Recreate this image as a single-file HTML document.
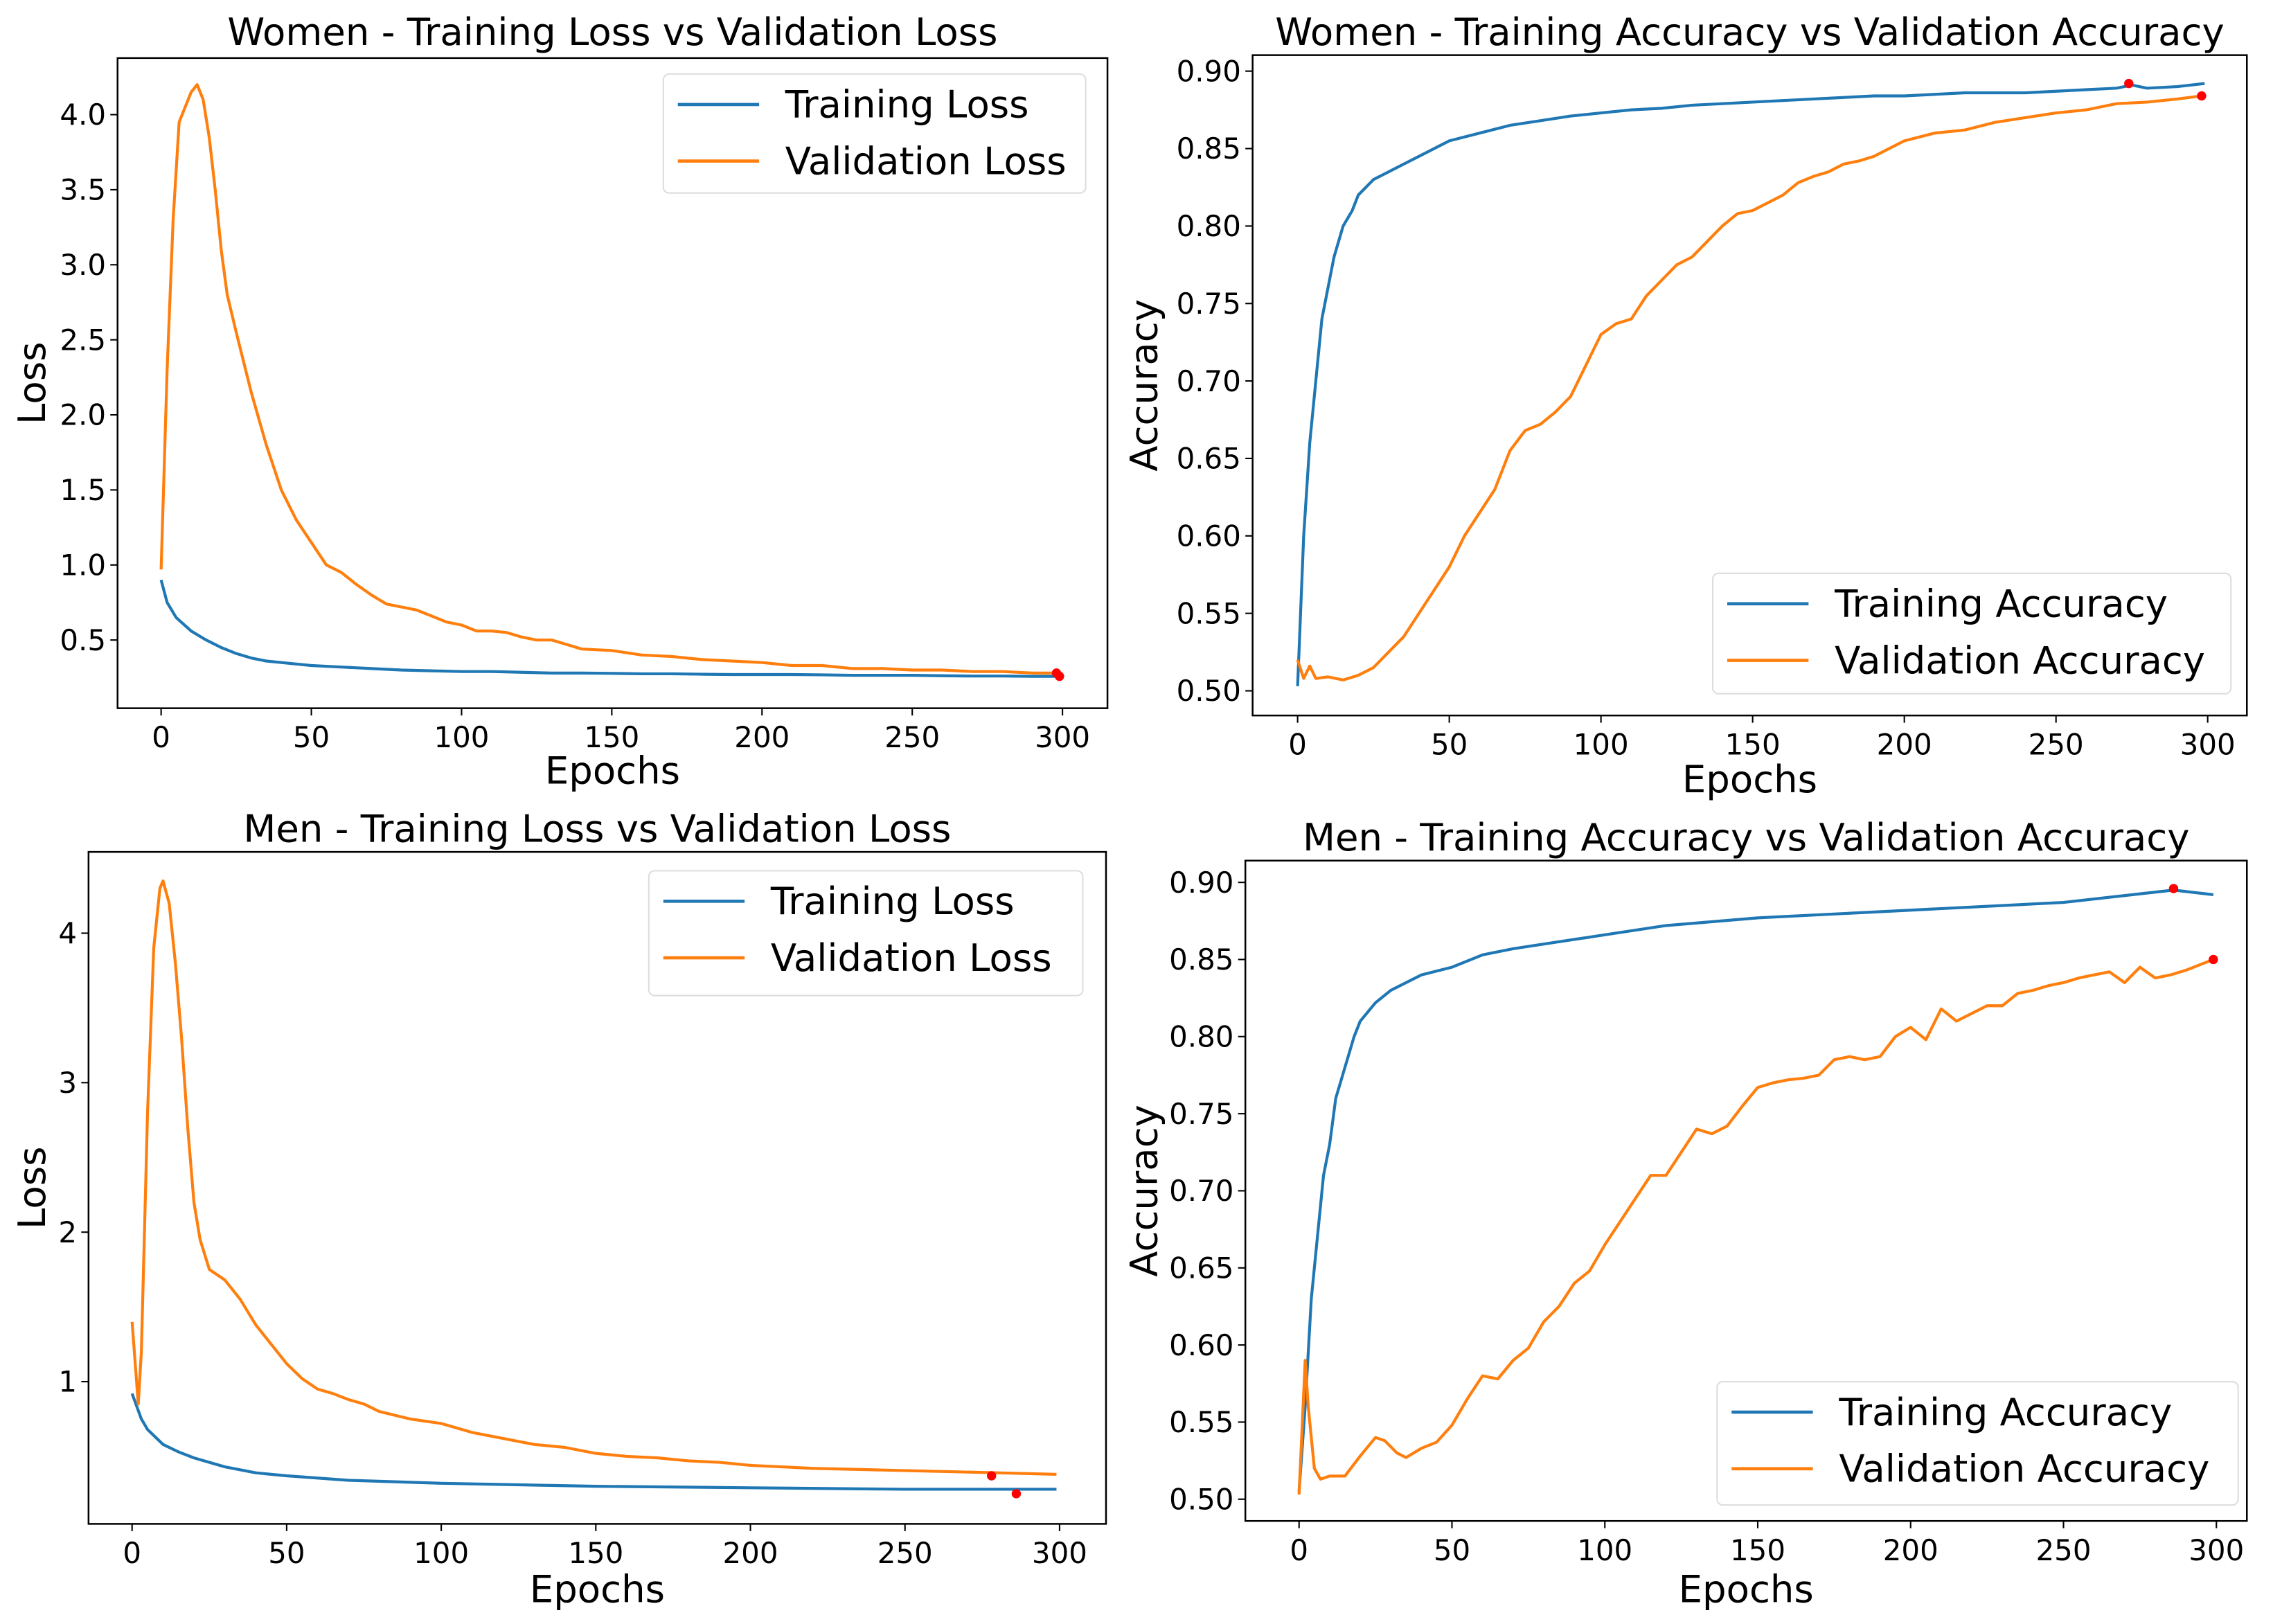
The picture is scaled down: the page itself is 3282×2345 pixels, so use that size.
<!DOCTYPE html>
<html><head><meta charset="utf-8"><style>
html,body{margin:0;padding:0;background:#fff;}
svg{display:block;}
text{font-family:"DejaVu Sans","Liberation Sans",sans-serif;fill:#000;}
</style></head><body>
<svg id="fig" width="3282" height="2345" viewBox="0 0 1566 1119" preserveAspectRatio="none" xmlns="http://www.w3.org/2000/svg"></svg>
<script>
// ---- Women loss ----
const wLossEp = [0,2,4,6,8,10,12,14,16,18,20,22,25,30,35,40,45,50,55,60,65,70,75,80,85,90,95,100,105,110,115,120,125,130,135,140,150,160,170,180,190,200,210,220,230,240,250,260,270,280,290,299];
const wValLoss = [0.97,2.3,3.3,3.95,4.05,4.15,4.2,4.1,3.85,3.5,3.1,2.8,2.55,2.15,1.8,1.5,1.3,1.15,1.0,0.95,0.87,0.8,0.74,0.72,0.7,0.66,0.62,0.6,0.56,0.56,0.55,0.52,0.5,0.5,0.47,0.44,0.43,0.4,0.39,0.37,0.36,0.35,0.33,0.33,0.31,0.31,0.3,0.3,0.29,0.29,0.28,0.28];
const wTrLossEp = [0,2,5,10,15,20,25,30,35,40,45,50,60,70,80,90,100,110,120,130,140,150,160,170,180,190,200,210,220,230,240,250,260,270,280,290,299];
const wTrLoss = [0.9,0.75,0.65,0.56,0.5,0.45,0.41,0.38,0.36,0.35,0.34,0.33,0.32,0.31,0.3,0.295,0.29,0.29,0.285,0.28,0.28,0.278,0.275,0.275,0.272,0.27,0.27,0.27,0.268,0.265,0.265,0.265,0.262,0.26,0.26,0.258,0.258];
// ---- Women accuracy ----
const wTrAccEp = [0,2,4,6,8,10,12,15,18,20,25,30,35,40,50,60,70,80,90,100,110,120,130,140,150,160,170,180,190,200,210,220,230,240,250,260,270,275,280,290,299];
const wTrAcc = [0.503,0.6,0.66,0.7,0.74,0.76,0.78,0.8,0.81,0.82,0.83,0.835,0.84,0.845,0.855,0.86,0.865,0.868,0.871,0.873,0.875,0.876,0.878,0.879,0.88,0.881,0.882,0.883,0.884,0.884,0.885,0.886,0.886,0.886,0.887,0.888,0.889,0.891,0.889,0.89,0.892];
const wValAccEp = [0,2,4,6,10,15,20,25,30,35,40,45,50,55,60,65,70,75,80,85,90,95,100,105,110,115,120,125,130,135,140,145,150,155,160,165,170,175,180,185,190,195,200,210,220,230,240,250,260,270,280,290,298];
const wValAcc = [0.52,0.508,0.516,0.508,0.509,0.507,0.51,0.515,0.525,0.535,0.55,0.565,0.58,0.6,0.615,0.63,0.655,0.668,0.672,0.68,0.69,0.71,0.73,0.737,0.74,0.755,0.765,0.775,0.78,0.79,0.8,0.808,0.81,0.815,0.82,0.828,0.832,0.835,0.84,0.842,0.845,0.85,0.855,0.86,0.862,0.867,0.87,0.873,0.875,0.879,0.88,0.882,0.884];
// ---- Men loss ----
const mValLossEp = [0,2,3,5,7,9,10,12,14,16,18,20,22,25,30,35,40,45,50,55,60,65,70,75,80,90,100,110,120,130,140,150,160,170,180,190,200,220,240,260,280,299];
const mValLoss = [1.4,0.85,1.2,2.8,3.9,4.3,4.35,4.2,3.8,3.3,2.7,2.2,1.95,1.75,1.68,1.55,1.38,1.25,1.12,1.02,0.95,0.92,0.88,0.85,0.8,0.75,0.72,0.66,0.62,0.58,0.56,0.52,0.5,0.49,0.47,0.46,0.44,0.42,0.41,0.4,0.39,0.38];
const mTrLossEp = [0,3,5,10,15,20,30,40,50,70,100,150,200,250,299];
const mTrLoss = [0.92,0.75,0.68,0.58,0.53,0.49,0.43,0.39,0.37,0.34,0.32,0.3,0.29,0.28,0.28];
// ---- Men accuracy ----
const mTrAccEp = [0,2,4,6,8,10,12,15,18,20,25,30,35,40,50,60,70,80,100,120,150,200,250,286,299];
const mTrAcc = [0.505,0.56,0.63,0.67,0.71,0.73,0.76,0.78,0.8,0.81,0.822,0.83,0.835,0.84,0.845,0.853,0.857,0.86,0.866,0.872,0.877,0.882,0.887,0.895,0.892];
const mValAccEp = [0,2,3,5,7,10,15,20,25,28,32,35,40,45,50,55,60,65,70,75,80,85,90,95,100,105,110,115,120,125,130,135,140,145,150,155,160,165,170,175,180,185,190,195,200,205,210,215,220,225,230,235,240,245,250,255,260,265,270,275,280,285,290,299];
const mValAcc = [0.503,0.59,0.56,0.52,0.513,0.515,0.515,0.528,0.54,0.538,0.53,0.527,0.533,0.537,0.548,0.565,0.58,0.578,0.59,0.598,0.615,0.625,0.64,0.648,0.665,0.68,0.695,0.71,0.71,0.725,0.74,0.737,0.742,0.755,0.767,0.77,0.772,0.773,0.775,0.785,0.787,0.785,0.787,0.8,0.806,0.798,0.818,0.81,0.815,0.82,0.82,0.828,0.83,0.833,0.835,0.838,0.84,0.842,0.835,0.845,0.838,0.84,0.843,0.85];
// tick labels
const xTicks = [0,50,100,150,200,250,300];
const lossTicksW = [0.5,1.0,1.5,2.0,2.5,3.0,3.5,4.0];
const lossTicksM = [1,2,3,4];
const accTicks = [0.50,0.55,0.60,0.65,0.70,0.75,0.80,0.85,0.90];

const NS="http://www.w3.org/2000/svg";
const svg=document.getElementById('fig');
function el(tag,attrs,parent){const e=document.createElementNS(NS,tag);for(const k in attrs)e.setAttribute(k,attrs[k]);(parent||svg).appendChild(e);return e;}
function txt(s,attrs,parent){const e=el('text',attrs,parent);e.textContent=s;return e;}

function panel(cfg){
  const g=el('g',{});
  
  
  const sx=v=>cfg.x0px+(v-0)/(300-0)*(cfg.x300px-cfg.x0px);
  const sy=v=>cfg.ya.px+(v-cfg.ya.v)/(cfg.yb.v-cfg.ya.v)*(cfg.yb.px-cfg.ya.px);
  const t=txt(cfg.title,{x:(cfg.L+cfg.R)/2,y:cfg.titleY,'font-size':26,'text-anchor':'middle'},g);
  
  
  // series
  cfg.series.forEach(s=>{
    const d=s.ep.map((e,i)=>(i?'L':'M')+sx(e).toFixed(2)+','+sy(s.val[i]).toFixed(2)).join('');
    const p=el('path',{d:d,fill:'none',stroke:s.color,'stroke-width':2,'stroke-linejoin':'round'},g);
    
    
  });
  cfg.dots.forEach(dt=>{
    const c=el('circle',{cx:sx(dt[0]),cy:sy(dt[1]),r:3.2,fill:'red'},g);
    
    
  });
  const fr=el('rect',{x:cfg.L,y:cfg.T,width:cfg.R-cfg.L,height:cfg.B-cfg.T,fill:'none',stroke:'#000','stroke-width':1.2},g);
  
  
  xTicks.forEach(v=>{
    el('line',{x1:sx(v),x2:sx(v),y1:cfg.B,y2:cfg.B+5,stroke:'#000','stroke-width':1},g);
    const l=txt(String(v),{x:sx(v),y:cfg.B+27,'font-size':20,'text-anchor':'middle'},g);
    
    
  });
  cfg.yTicks.forEach(v=>{
    el('line',{x1:cfg.L-5,x2:cfg.L,y1:sy(v),y2:sy(v),stroke:'#000','stroke-width':1},g);
    const l=txt(v.toFixed(cfg.dec),{x:cfg.L-8,y:sy(v)+7,'font-size':20,'text-anchor':'end'},g);
    
    
  });
  const xl=txt('Epochs',{x:(cfg.L+cfg.R)/2,y:cfg.xlabY,'font-size':26,'text-anchor':'middle'},g);
  
  
  const yl=txt(cfg.ylab,{x:0,y:0,'font-size':26,'text-anchor':'middle',transform:`translate(${cfg.ylabX},${(cfg.T+cfg.B)/2}) rotate(-90)`},g);
  
  
  // legend
  const lg=cfg.leg;
  const lb=el('g',{},g);
  
  
  el('rect',{x:lg.x,y:lg.y,width:lg.w,height:lg.h,rx:4,fill:'#fff','fill-opacity':0.85,stroke:'#ddd','stroke-width':1},lb);
  cfg.series.forEach((s,i)=>{
    const yy=lg.y+21+i*39;
    el('line',{x1:lg.x+10,x2:lg.x+66,y1:yy,y2:yy,stroke:s.color,'stroke-width':2.2},lb);
    const lt=txt(s.label,{x:lg.x+84,y:yy+9,'font-size':26},lb);
    
    
  });
}
const BLUE='#1f77b4',ORANGE='#ff7f0e';
panel({name:'women-loss-chart',title:'Women - Training Loss vs Validation Loss',L:81,R:763,T:40,B:488,x0px:111,x300px:732,
  ya:{v:0.5,px:441},yb:{v:4.0,px:79},yTicks:lossTicksW,dec:1,ylab:'Loss',ylabX:31,titleY:31,xlabY:540,
  series:[{id:'training-loss-line',label:'Training Loss',color:BLUE,ep:wTrLossEp,val:wTrLoss},{id:'validation-loss-line',label:'Validation Loss',color:ORANGE,ep:wLossEp,val:wValLoss}],
  dots:[[299,0.258],[298,0.28]],leg:{x:457,y:51,w:291,h:82}});
panel({name:'women-accuracy-chart',title:'Women - Training Accuracy vs Validation Accuracy',L:863,R:1548,T:38,B:493,x0px:894,x300px:1521,
  ya:{v:0.5,px:476},yb:{v:0.9,px:49},yTicks:accTicks,dec:2,ylab:'Accuracy',ylabX:797,titleY:31,xlabY:546,
  series:[{id:'training-accuracy-line',label:'Training Accuracy',color:BLUE,ep:wTrAccEp,val:wTrAcc},{id:'validation-accuracy-line',label:'Validation Accuracy',color:ORANGE,ep:wValAccEp,val:wValAcc}],
  dots:[[274,0.892],[298,0.884]],leg:{x:1180,y:395,w:357,h:83}});
panel({name:'men-loss-chart',title:'Men - Training Loss vs Validation Loss',L:61,R:762,T:587,B:1050,x0px:91,x300px:730,
  ya:{v:1,px:952},yb:{v:4,px:643},yTicks:lossTicksM,dec:0,ylab:'Loss',ylabX:31,titleY:580,xlabY:1104,
  series:[{id:'training-loss-line',label:'Training Loss',color:BLUE,ep:mTrLossEp,val:mTrLoss},{id:'validation-loss-line',label:'Validation Loss',color:ORANGE,ep:mValLossEp,val:mValLoss}],
  dots:[[278,0.37],[286,0.25]],leg:{x:447,y:600,w:299,h:86}});
panel({name:'men-accuracy-chart',title:'Men - Training Accuracy vs Validation Accuracy',L:858,R:1548,T:593,B:1048,x0px:895,x300px:1527,
  ya:{v:0.5,px:1033},yb:{v:0.9,px:608},yTicks:accTicks,dec:2,ylab:'Accuracy',ylabX:797,titleY:586,xlabY:1104,
  series:[{id:'training-accuracy-line',label:'Training Accuracy',color:BLUE,ep:mTrAccEp,val:mTrAcc},{id:'validation-accuracy-line',label:'Validation Accuracy',color:ORANGE,ep:mValAccEp,val:mValAcc}],
  dots:[[286,0.896],[299,0.85]],leg:{x:1183,y:952,w:359,h:85}});
</script>
</body></html>
